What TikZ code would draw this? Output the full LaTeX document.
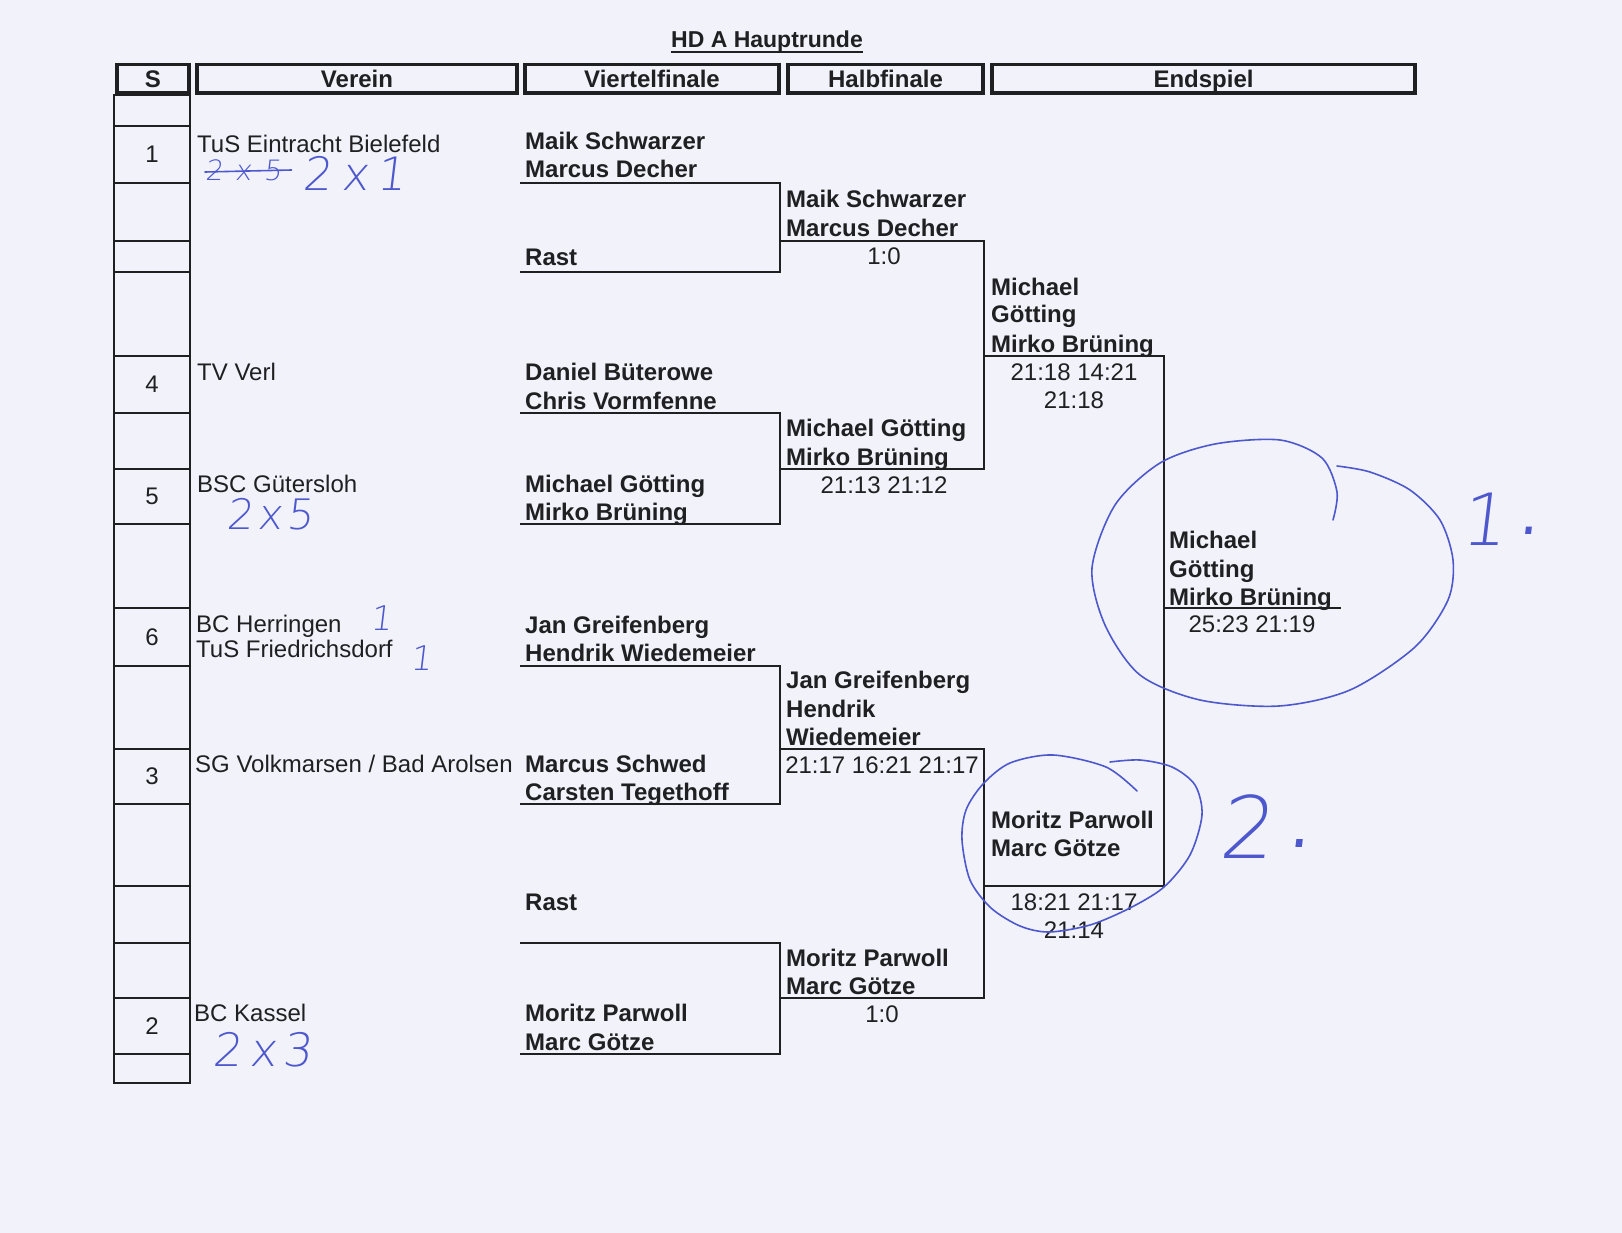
\documentclass[tikz,border=0pt]{standalone}
\usepackage{fontspec}
\setmainfont{Liberation Sans}
\IfFontExistsTF{DejaVuSans-ExtraLight.ttf}
  {\newfontfamily\handfont{DejaVuSans-ExtraLight.ttf}[FakeSlant=0.12]}
  {\newfontfamily\handfont{Liberation Sans}[FakeSlant=0.15]}
\usetikzlibrary{positioning}
\definecolor{paper}{RGB}{241,242,250}
\definecolor{ink}{RGB}{32,32,34}
\definecolor{pen}{RGB}{78,88,205}

\begin{document}
\begin{tikzpicture}[x=1pt,y=-1pt,
    hcell/.style={draw=ink, line width=3.5pt, minimum height=28.5pt, inner sep=0pt,
      text height=17.5pt, text depth=0pt, text=ink, font=\bfseries\fontsize{24}{29}\selectfont},
    club/.style={anchor=base west, inner sep=0pt, text=ink, font=\fontsize{24}{29}\selectfont},
    seed/.style={inner sep=0pt, text=ink, font=\fontsize{24}{29}\selectfont},
    pl/.style={anchor=base west, inner sep=0pt, text=ink, font=\bfseries\fontsize{24}{29}\selectfont},
    score/.style={anchor=base, inner sep=0pt, text=ink, font=\fontsize{24}{29}\selectfont},
    bline/.style={draw=ink, line width=2pt},
    sline/.style={draw=ink, line width=2pt},
    hand/.style={anchor=base west, inner sep=0pt, text=pen},
    penline/.style={draw=pen, line width=1.6pt, line cap=round, line join=round}]
\useasboundingbox[fill=paper] (0,0) rectangle (1622,1233);

% Titel und Kopfzeile
\node[pl, anchor=base, font=\bfseries\fontsize{23}{28}\selectfont] (title) at (767,48) {HD A Hauptrunde};
\draw[ink, line width=2pt] ([yshift=-4pt]title.base west) -- ([yshift=-4pt]title.base east);
\node[hcell, minimum width=72pt] (hS) at (153,79) {S};
\node[hcell, minimum width=320pt] (hV) at (357,79) {Verein};
\node[hcell, minimum width=254pt] (hQ) at (652,79) {Viertelfinale};
\node[hcell, minimum width=195pt] (hH) at (885.5,79) {Halbfinale};
\node[hcell, minimum width=423pt] (hE) at (1203.5,79) {Endspiel};

% Setzliste
\draw[sline] (114,95) rectangle (190,1083);
\foreach \r in {126,183,241,272,356,413,469,524,608,666,749,804,886,943,998,1054}
  \draw[sline] (114,\r) -- (190,\r);
\node[seed] (s1) at (152,154.5) {1};
\node[seed] (s4) at (152,384.5) {4};
\node[seed] (s5) at (152,496.5) {5};
\node[seed] (s6) at (152,637) {6};
\node[seed] (s3) at (152,776.5) {3};
\node[seed] (s2) at (152,1026) {2};

% Vereine
\node[club] (v1) at (197,153) {TuS Eintracht Bielefeld};
\node[club] (v4) at (197,380) {TV Verl};
\node[club] (v5) at (197,492) {BSC Gütersloh};
\node[club] (v6a) at (196,632) {BC Herringen};
\node[club] (v6b) at (196,657) {TuS Friedrichsdorf};
\node[club] (v3) at (195,772) {SG Volkmarsen / Bad Arolsen};
\node[club] (v2) at (194,1021) {BC Kassel};

% Linien
\coordinate (vq) at (780,0);
\coordinate (vh) at (984,0);
\coordinate (vf) at (1164,0);
\coordinate (a1) at (520,183);
\coordinate (a2) at (520,272);
\coordinate (a3) at (520,413);
\coordinate (a4) at (520,524);
\coordinate (a5) at (520,666);
\coordinate (a6) at (520,804);
\coordinate (a7) at (520,943);
\coordinate (a8) at (520,1054);
\coordinate (b1) at (780,241);
\coordinate (b2) at (780,469);
\coordinate (b3) at (780,749);
\coordinate (b4) at (780,998);
\coordinate (c1) at (984,356);
\coordinate (c2) at (984,886);
\coordinate (d1) at (1164,608);
\coordinate (d2) at (1341,608);
\draw[bline] (a1) -| (vq |- a2) -- (a2);
\draw[bline] (a3) -| (vq |- a4) -- (a4);
\draw[bline] (a5) -| (vq |- a6) -- (a6);
\draw[bline] (a7) -| (vq |- a8) -- (a8);
\draw[bline] (b1) -| (vh |- b2) -- (b2);
\draw[bline] (b3) -| (vh |- b4) -- (b4);
\draw[bline] (c1) -| (vf |- c2) -- (c2);
\draw[bline] (d1) -- (d2);

% Viertelfinale
\node[pl] (q1a) at (525,150) {Maik Schwarzer};
\node[pl] (q1b) at (525,178) {Marcus Decher};
\node[pl] (q2) at (525,266) {Rast};
\node[pl] (q3a) at (525,380) {Daniel Büterowe};
\node[pl] (q3b) at (525,409) {Chris Vormfenne};
\node[pl] (q4a) at (525,492) {Michael Götting};
\node[pl] (q4b) at (525,520) {Mirko Brüning};
\node[pl] (q5a) at (525,633) {Jan Greifenberg};
\node[pl] (q5b) at (525,661) {Hendrik Wiedemeier};
\node[pl] (q6a) at (525,772) {Marcus Schwed};
\node[pl] (q6b) at (525,800) {Carsten Tegethoff};
\node[pl] (q7) at (525,910) {Rast};
\node[pl] (q8a) at (525,1021) {Moritz Parwoll};
\node[pl] (q8b) at (525,1050) {Marc Götze};

% Halbfinale
\node[pl] (h1a) at (786,208) {Maik Schwarzer};
\node[pl] (h1b) at (786,237) {Marcus Decher};
\node[score] (h1s) at (884,265) {1:0};
\node[pl] (h2a) at (786,436) {Michael Götting};
\node[pl] (h2b) at (786,465) {Mirko Brüning};
\node[score] (h2s) at (884,493) {21:13 21:12};
\node[pl] (h3a) at (786,688) {Jan Greifenberg};
\node[pl] (h3b) at (786,717) {Hendrik};
\node[pl] (h3c) at (786,745) {Wiedemeier};
\node[score] (h3s) at (882,773) {21:17 16:21 21:17};
\node[pl] (h4a) at (786,966) {Moritz Parwoll};
\node[pl] (h4b) at (786,994) {Marc Götze};
\node[score] (h4s) at (882,1022) {1:0};

% Endspiel
\node[pl] (f1a) at (991,295) {Michael};
\node[pl] (f1b) at (991,323) {Götting};
\node[pl] (f1c) at (991,352) {Mirko Brüning};
\node[score] (f1s) at (1074,380) {21:18 14:21};
\node[score] (f1t) at (1074,408) {21:18};
\node[pl] (f2a) at (991,828) {Moritz Parwoll};
\node[pl] (f2b) at (991,856) {Marc Götze};
\node[score] (f2s) at (1074,910) {18:21 21:17};
\node[score] (f2t) at (1074,938) {21:14};
\node[pl] (e1a) at (1169,548) {Michael};
\node[pl] (e1b) at (1169,577) {Götting};
\node[pl] (e1c) at (1169,605) {Mirko Brüning};
\node[score] (e1s) at (1252,632) {25:23 21:19};

% Handschrift
\node[hand, font=\handfont\fontsize{28}{28}\selectfont] (n1x) at (205,181) {2\hspace{12pt}x\hspace{12pt}5};
\draw[penline] ([yshift=9pt]n1x.base west) -- ([xshift=10pt,yshift=11pt]n1x.base east);
\node[hand, font=\handfont\fontsize{46}{46}\selectfont] (n1) at (302,191) {2\hspace{10pt}x\hspace{8pt}1};
\node[hand, font=\handfont\fontsize{42}{42}\selectfont] (n5) at (226,529) {2\hspace{5pt}x\hspace{4pt}5};
\node[hand, font=\handfont\fontsize{34}{34}\selectfont] (n6a) at (370,630) {1};
\node[hand, font=\handfont\fontsize{34}{34}\selectfont] (n6b) at (410,670) {1};
\node[hand, font=\handfont\fontsize{46}{46}\selectfont] (n2) at (212,1066) {2\hspace{8pt}x\hspace{6pt}3};
\node[hand, font=\handfont\fontsize{72}{72}\selectfont] (p1) at (1460,545)
  {1\hspace{3pt}\raisebox{11pt}{\fontsize{120}{120}\selectfont .}};
\node[hand, font=\handfont\fontsize{86}{86}\selectfont] (p2) at (1218,858)
  {2\hspace{6pt}\raisebox{11pt}{\fontsize{130}{130}\selectfont .}};
\draw[penline] plot[smooth] coordinates {(1333,520) (1337,492) (1322,458) (1280,440) (1215,444)
  (1160,463) (1115,505) (1092,568) (1105,625) (1140,675) (1200,700) (1279,706) (1350,690)
  (1415,647) (1448,600) (1453,560) (1440,520) (1410,490) (1370,472) (1337,466)};
\draw[penline] plot[smooth] coordinates {(1137,791) (1106,767) (1053,755) (1010,763) (983,784)
  (966,810) (962,840) (970,880) (991,908) (1020,926) (1049,932) (1090,925) (1130,908)
  (1164,887) (1190,855) (1202,815) (1195,785) (1172,767) (1140,760) (1110,762)};
\end{tikzpicture}
\end{document}
